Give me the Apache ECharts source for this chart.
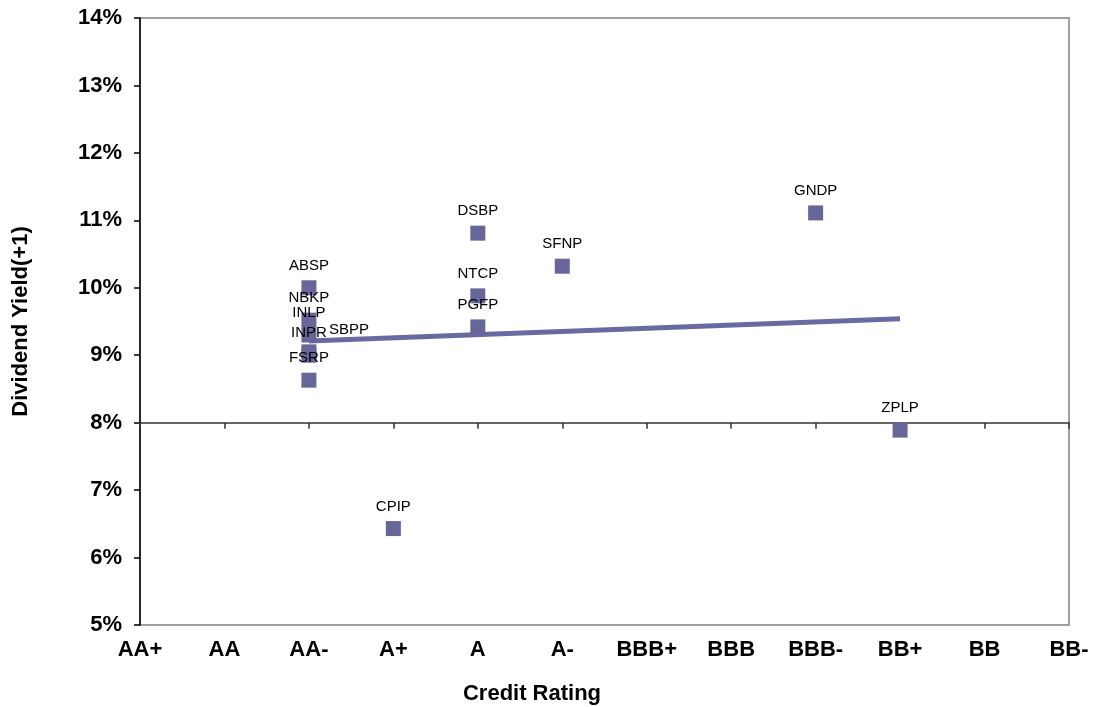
<!DOCTYPE html>
<html>
<head>
<meta charset="utf-8">
<script src="https://cdn.jsdelivr.net/npm/echarts@6/dist/echarts.min.js"></script>
<style>html,body{margin:0;padding:0;background:#fff;}#c{width:1097px;height:707px;}</style>
</head>
<body>
<div id="c"></div>
<script>
var ratings = ['AA+','AA','AA-','A+','A','A-','BBB+','BBB','BBB-','BB+','BB','BB-'];
var names   = ['ABSP','NBKP','INLP','INPR','SBPP','FSRP','DSBP','NTCP','PGFP','SFNP','GNDP','ZPLP','CPIP'];
var ratingIdx = [2,2,2,2,2,2,4,4,4,5,8,9,3];
var yields  = [10.0,9.52,9.30,9.0,9.05,8.63,10.81,9.88,9.42,10.32,11.11,7.89,6.43];
var trendX = [2, 9];
var trendY = [9.21, 9.54];

var yMin = 5, yMax = 14, crossY = 8;
var gridTop = 18, gridBottom = 82, gridH = 707 - gridTop - gridBottom;

var pts = names.map(function(n,i){
  var p = {value:[ratingIdx[i], yields[i]], name:n};
  if (n === 'SBPP') p.label = {offset:[40,0]};
  return p;
});

var chart = echarts.init(document.getElementById('c'));
chart.setOption({
  animation:false,
  grid:{left:140,right:28,top:gridTop,bottom:gridBottom,show:true,borderColor:'#a0a0a0',borderWidth:2,backgroundColor:'#fff'},
  title:{text:'Credit Rating',left:527,top:678,textAlign:'center',
    textStyle:{fontFamily:'Liberation Sans',fontWeight:'bold',fontSize:22,color:'#000'}},
  xAxis:[{
    type:'value',min:0,max:11,interval:1,position:'bottom',
    axisLine:{show:false},axisTick:{show:false},splitLine:{show:false},
    axisLabel:{margin:14,fontFamily:'Liberation Sans',fontWeight:'bold',fontSize:22,color:'#000',
      formatter:function(v){return ratings[v]||'';}}
  },{
    type:'value',min:0,max:11,interval:1,position:'top',
    offset:-(yMax-crossY)/(yMax-yMin)*gridH,
    axisLine:{show:true,onZero:false,lineStyle:{color:'#333',width:1.5}},
    axisTick:{show:true,inside:true,length:6,lineStyle:{color:'#333',width:1.5}},
    axisLabel:{show:false},splitLine:{show:false}
  }],
  yAxis:{
    type:'value',min:yMin,max:yMax,interval:1,
    name:'Dividend Yield(+1)',nameLocation:'middle',nameGap:108,
    nameTextStyle:{fontFamily:'Liberation Sans',fontWeight:'bold',fontSize:22,color:'#000'},
    axisLine:{show:true,lineStyle:{color:'#000',width:1.5}},
    axisTick:{show:true,length:6,lineStyle:{color:'#000',width:1.5}},
    splitLine:{show:false},
    axisLabel:{margin:18,fontFamily:'Liberation Sans',fontWeight:'bold',fontSize:22,color:'#000',
      formatter:function(v){return v+'%';}}
  },
  series:[{
    type:'line',xAxisIndex:0,data:trendX.map(function(x,i){return [x,trendY[i]];}),
    symbol:'none',lineStyle:{color:'#6a6aa2',width:5},z:2
  },{
    type:'scatter',xAxisIndex:0,data:pts,symbol:'rect',symbolSize:15,
    itemStyle:{color:'#666699',opacity:1},z:3,
    label:{show:true,position:'top',distance:7,formatter:'{b}',
      fontFamily:'Liberation Sans',fontSize:15,color:'#000'}
  }]
});
</script>
</body>
</html>
